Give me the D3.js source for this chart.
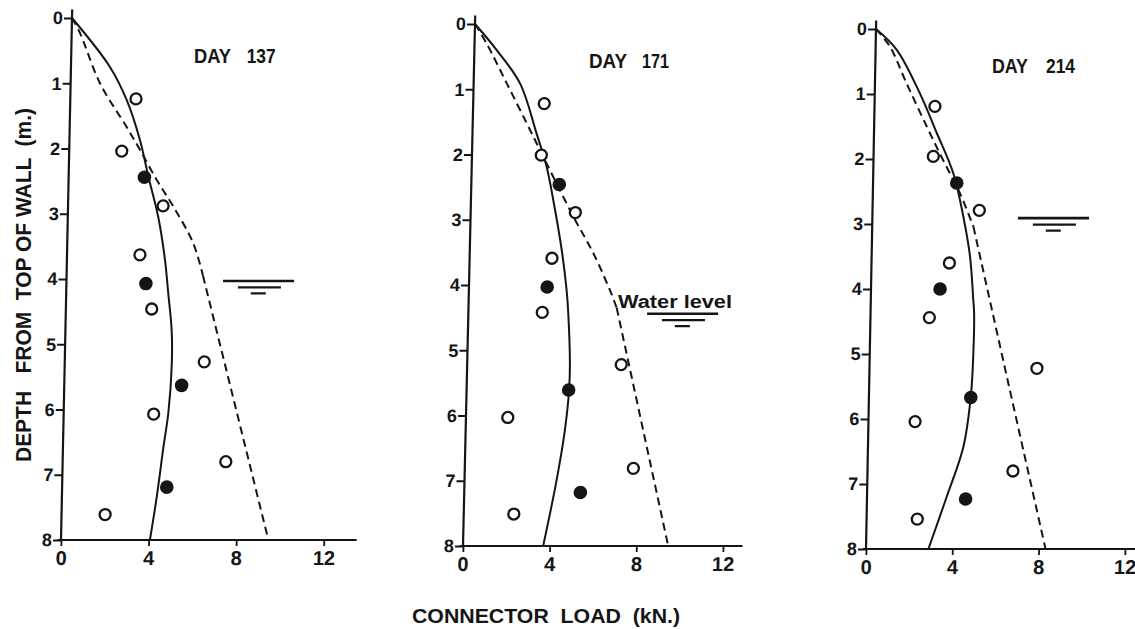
<!DOCTYPE html>
<html><head><meta charset="utf-8">
<script src="https://cdn.jsdelivr.net/npm/d3@7"></script>
<style>
body{margin:0;background:#fff}
svg{display:block}
text{font-family:'Liberation Sans',Arial,Helvetica,sans-serif;font-weight:bold;fill:#151515;white-space:pre}
</style>
</head><body><svg id="c" width="1135" height="629"></svg>
<script>
// ---------- DATA ----------
const days = ["137", "171", "214"];
const yTicks = [0, 1, 2, 3, 4, 5, 6, 7, 8];
const xTicks = [0, 4, 8, 12];
const xTitle = "CONNECTOR  LOAD  (kN.)";
const yTitle = "DEPTH   FROM  TOP OF WALL  (m.)";
const waterText = "Water level";

// open circles (load kN, depth m)
const open137Load  = [3.00, 2.40, 4.34, 3.33, 3.92, 6.37, 4.11, 7.45, 1.99];
const open137Depth = [1.24, 2.04, 2.88, 3.63, 4.46, 5.27, 6.07, 6.80, 7.61];
const open171Load  = [3.28, 3.20, 4.83, 3.80, 3.41, 7.11, 1.93, 7.78, 2.31];
const open171Depth = [1.22, 2.01, 2.89, 3.59, 4.42, 5.22, 6.03, 6.81, 7.51];
const open214Load  = [2.80, 2.77, 4.95, 3.61, 2.73, 7.76, 2.16, 6.74, 2.35];
const open214Depth = [1.19, 1.96, 2.79, 3.60, 4.44, 5.22, 6.04, 6.80, 7.54];

// filled circles
const filled137Load  = [3.46, 3.63, 5.36, 4.78];
const filled137Depth = [2.44, 4.07, 5.63, 7.19];
const filled171Load  = [4.06, 3.61, 4.71, 5.36];
const filled171Depth = [2.46, 4.03, 5.61, 7.18];
const filled214Load  = [3.88, 3.20, 4.72, 4.57];
const filled214Depth = [2.37, 4.00, 5.67, 7.23];

// solid curves
const solid137Load  = [0, 1.78, 2.58, 3.22, 3.64, 4.13, 4.48, 4.66, 4.85, 4.89, 4.78, 4.59, 4.33, 4.06];
const solid137Depth = [0, 0.75, 1.26, 1.87, 2.43, 3.05, 3.71, 4.22, 4.78, 5.29, 6.05, 6.57, 7.34, 8];
const solid171Load  = [0, 1.03, 2.14, 2.96, 3.46, 3.80, 4.24, 4.51, 4.61, 4.74, 4.73, 4.58, 4.25, 3.70];
const solid171Depth = [0, 0.40, 0.91, 1.68, 2.19, 2.70, 3.46, 4.08, 4.43, 5.20, 5.61, 6.22, 6.99, 8];
const solid214Load  = [0, 0.98, 2.09, 2.91, 3.71, 4.21, 4.56, 4.75, 4.80, 4.80, 4.72, 4.42, 3.69, 2.89];
const solid214Depth = [0, 0.32, 0.99, 1.60, 2.22, 2.88, 3.50, 4.17, 4.37, 4.99, 5.66, 6.43, 7.20, 8];

// dashed curves (curved part up to the knee index, straight after)
const dashed137Load  = [0, 0.38, 1.34, 2.60, 3.23, 4.02, 4.81, 5.75, 6.23, 9.47];
const dashed137Depth = [0, 0.23, 1.00, 1.67, 2.02, 2.48, 2.89, 3.45, 3.95, 8];
const dashed171Load  = [0, 0.56, 1.53, 2.49, 3.13, 3.77, 4.74, 5.70, 6.51, 6.84, 9.47];
const dashed171Depth = [0, 0.30, 0.91, 1.52, 1.93, 2.34, 2.95, 3.51, 4.08, 4.35, 8];
const dashed214Load  = [0, 0.66, 1.47, 2.44, 3.23, 4.04, 4.69, 6.41, 8.32];
const dashed214Depth = [0, 0.27, 0.84, 1.50, 2.02, 2.53, 3.04, 5.40, 8];
const dashedKnee = [8, 9, 6];

// water level marks (depth m, starting load kN)
const waterDepth = [4.03, 4.44, 2.91];
const waterLoad  = [7.15, 8.25, 6.75];

// ---------- LAYOUT (style) ----------
const layout = [
  {ox: 61,  oy: 540, h: 522, kx: 21.9,  dx: 11, axEnd: 13.5, dayX: 194, numX: 246.7, dayY: 63, dayW: 37, numW: 29},
  {ox: 463, oy: 546, h: 522, kx: 21.67, dx: 12, axEnd: 12.9, dayX: 589, numX: 642,   dayY: 68, dayW: 38, numW: 27},
  {ox: 866, oy: 549, h: 520, kx: 21.58, dx: 10, axEnd: 13.6, dayX: 992, numX: 1046,  dayY: 73, dayW: 36, numW: 29}
];

const series = [
  {open: [open137Load, open137Depth], filled: [filled137Load, filled137Depth], solid: [solid137Load, solid137Depth], dashed: [dashed137Load, dashed137Depth]},
  {open: [open171Load, open171Depth], filled: [filled171Load, filled171Depth], solid: [solid171Load, solid171Depth], dashed: [dashed171Load, dashed171Depth]},
  {open: [open214Load, open214Depth], filled: [filled214Load, filled214Depth], solid: [solid214Load, solid214Depth], dashed: [dashed214Load, dashed214Depth]}
];

const zip = (a, b) => a.map((v, i) => [v, b[i]]);
const svg = d3.select("#c");
svg.append("rect").attr("width", 1135).attr("height", 629).attr("fill", "#fff");
const ink = "#151515";

layout.forEach((L, i) => {
  const S = series[i];
  const skew = Math.atan(-L.dx / L.h) * 180 / Math.PI;
  const g = svg.append("g").attr("transform", `translate(${L.ox},${L.oy}) skewX(${skew})`);
  const x = d3.scaleLinear().domain([0, 12]).range([0, 12 * L.kx]);
  const y = d3.scaleLinear().domain([0, 8]).range([-L.h, 0]);

  // axes lines
  g.append("line").attr("x1", x(0)).attr("x2", x(0)).attr("y1", y(-0.13)).attr("y2", y(8) + 1)
    .attr("stroke", ink).attr("stroke-width", 2.2);
  g.append("line").attr("x1", x(-0.15)).attr("x2", x(L.axEnd)).attr("y1", y(8)).attr("y2", y(8))
    .attr("stroke", ink).attr("stroke-width", 2.2);

  const ya = g.append("g").call(d3.axisLeft(y).tickValues(yTicks).tickSize(8).tickPadding(1).tickFormat(d3.format("d")));
  ya.select(".domain").remove();
  ya.selectAll("line").attr("stroke", ink).attr("stroke-width", 1.8);
  ya.selectAll("text").attr("font-size", 18).attr("font-family", "'Liberation Sans',Arial,sans-serif").attr("font-weight", "bold").attr("fill", ink);

  const xa = g.append("g").call(d3.axisBottom(x).tickValues(xTicks).tickSize(6).tickPadding(5).tickFormat(d3.format("d")));
  xa.select(".domain").remove();
  xa.selectAll("line").attr("stroke", ink).attr("stroke-width", 1.8);
  xa.selectAll("text").attr("font-size", 20).attr("font-family", "'Liberation Sans',Arial,sans-serif").attr("font-weight", "bold").attr("fill", ink);

  // solid curve
  const smooth = d3.line().x(d => x(d[0])).y(d => y(d[1])).curve(d3.curveCatmullRom.alpha(0.5));
  const straight = d3.line().x(d => x(d[0])).y(d => y(d[1])).curve(d3.curveLinear);
  g.append("path").datum(zip(S.solid[0], S.solid[1]))
    .attr("d", smooth)
    .attr("fill", "none").attr("stroke", ink).attr("stroke-width", 2);

  // dashed curve
  const dpts = zip(S.dashed[0], S.dashed[1]);
  const k = dashedKnee[i];
  g.append("path").datum(dpts.slice(0, k + 1))
    .attr("d", smooth)
    .attr("fill", "none").attr("stroke", ink).attr("stroke-width", 2).attr("stroke-dasharray", "8,5");
  g.append("path").datum(dpts.slice(k))
    .attr("d", straight)
    .attr("fill", "none").attr("stroke", ink).attr("stroke-width", 2).attr("stroke-dasharray", "8,5");

  // open circles
  g.selectAll(".o").data(zip(S.open[0], S.open[1])).enter().append("circle")
    .attr("cx", d => x(d[0])).attr("cy", d => y(d[1])).attr("r", 5.5)
    .attr("fill", "#fff").attr("stroke", ink).attr("stroke-width", 2.3);
  // filled circles
  g.selectAll(".f").data(zip(S.filled[0], S.filled[1])).enter().append("circle")
    .attr("cx", d => x(d[0])).attr("cy", d => y(d[1])).attr("r", 6.8)
    .attr("fill", ink);

  // water level symbol
  const wx = x(waterLoad[i]), wy = y(waterDepth[i]);
  [[0, 71, 0, 2.6], [15, 43, 6.5, 2.2], [28, 15, 12.5, 2.2]].forEach(([off, w, dy, sw]) => {
    g.append("line").attr("x1", wx + off).attr("x2", wx + off + w).attr("y1", wy + dy).attr("y2", wy + dy)
      .attr("stroke", ink).attr("stroke-width", sw);
  });

  // day label
  svg.append("text").attr("x", L.dayX).attr("y", L.dayY).attr("font-size", 20)
    .attr("textLength", L.dayW).attr("lengthAdjust", "spacingAndGlyphs").text("DAY");
  svg.append("text").attr("x", L.numX).attr("y", L.dayY).attr("font-size", 20)
    .attr("textLength", L.numW).attr("lengthAdjust", "spacingAndGlyphs").text(days[i]);
});

// water level text
svg.append("text").attr("x", 618).attr("y", 308).attr("font-size", 18)
  .attr("textLength", 114).attr("lengthAdjust", "spacingAndGlyphs").text(waterText);

// axis titles
svg.append("text").attr("x", 546).attr("y", 623).attr("text-anchor", "middle").attr("font-size", 20)
  .attr("textLength", 268).attr("lengthAdjust", "spacingAndGlyphs").text(xTitle);
svg.append("text").attr("transform", "translate(31,285) rotate(-90)").attr("text-anchor", "middle")
  .attr("font-size", 22).attr("textLength", 354).attr("lengthAdjust", "spacingAndGlyphs").text(yTitle);
</script>
</body></html>
